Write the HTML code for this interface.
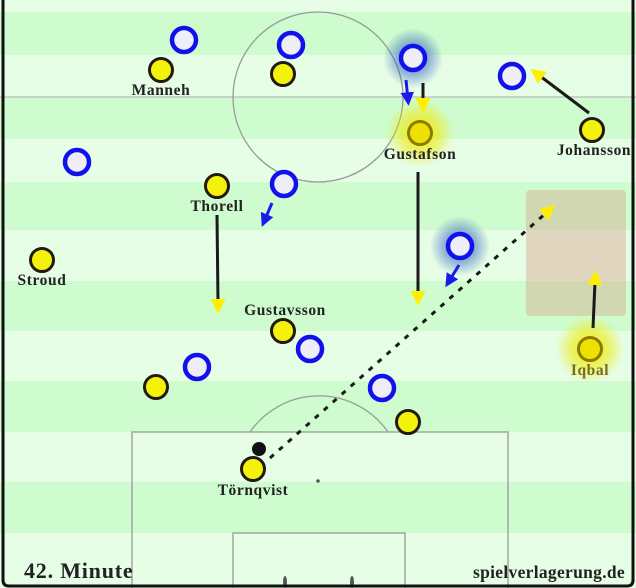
<!DOCTYPE html>
<html><head><meta charset="utf-8"><style>
html,body{margin:0;padding:0;background:#fff}
svg{display:block}
text{font-family:"Liberation Serif",serif;font-weight:bold;fill:#222}
</style></head><body>
<svg width="636" height="588" viewBox="0 0 636 588" xmlns="http://www.w3.org/2000/svg">
<defs>
<radialGradient id="gy"><stop offset="0" stop-color="#f0ea00" stop-opacity="0.95"/><stop offset="0.55" stop-color="#f0ea00" stop-opacity="0.55"/><stop offset="1" stop-color="#f0ea00" stop-opacity="0"/></radialGradient>
<radialGradient id="gb"><stop offset="0" stop-color="#1040c0" stop-opacity="0.85"/><stop offset="0.55" stop-color="#3060c0" stop-opacity="0.45"/><stop offset="1" stop-color="#3060c0" stop-opacity="0"/></radialGradient>
<marker id="ay" viewBox="0 0 10 10" refX="2" refY="5" markerWidth="5" markerHeight="5" orient="auto" markerUnits="strokeWidth"><path d="M0,0 L10,5 L0,10 z" fill="#ffee00"/></marker>
<marker id="ab" viewBox="0 0 10 10" refX="2" refY="5" markerWidth="4.5" markerHeight="4.5" orient="auto" markerUnits="strokeWidth"><path d="M0,0 L10,5 L0,10 z" fill="#1a1aee"/></marker>
</defs>
<rect width="636" height="588" fill="#e6fde6"/>
<g fill="#cffccf">
<rect x="0" y="12" width="636" height="43"/>
<rect x="0" y="97" width="636" height="42"/>
<rect x="0" y="182" width="636" height="48"/>
<rect x="0" y="281" width="636" height="50"/>
<rect x="0" y="381" width="636" height="51"/>
<rect x="0" y="482" width="636" height="51"/>
</g>
<g fill="none" stroke="#999" stroke-width="1.3">
<line x1="0" y1="97" x2="636" y2="97" stroke="#bbb"/>
<circle cx="318" cy="97" r="85"/>
<rect x="132" y="432" width="376" height="170"/>
<rect x="233" y="533" width="172" height="70"/>
<path d="M250,432 A84,84 0 0 1 388,432"/>
</g>
<circle cx="318" cy="481" r="1.8" fill="#555"/>
<ellipse cx="285" cy="582" rx="2" ry="6" fill="#555"/>
<ellipse cx="352" cy="582" rx="2" ry="6" fill="#555"/>
<rect x="526" y="190" width="100" height="126" rx="4" fill="rgba(215,130,110,0.3)"/>
<!-- glows -->
<circle cx="413" cy="58" r="30" fill="url(#gb)"/>
<circle cx="460" cy="246" r="30" fill="url(#gb)"/>
<circle cx="420" cy="133" r="34" fill="url(#gy)"/>
<circle cx="590" cy="349" r="34" fill="url(#gy)"/>
<!-- arrows -->
<g stroke="#1a1a1a" stroke-width="3" fill="none">
<line x1="423" y1="83" x2="423" y2="101" marker-end="url(#ay)"/>
<line x1="589" y1="113" x2="540" y2="76" marker-end="url(#ay)"/>
<line x1="418" y1="172" x2="418" y2="294" marker-end="url(#ay)"/>
<line x1="217" y1="215" x2="218" y2="302" marker-end="url(#ay)"/>
<line x1="593" y1="328" x2="595" y2="282" marker-end="url(#ay)"/>
<line x1="270" y1="458" x2="546" y2="213" stroke-dasharray="5,7" marker-end="url(#ay)"/>
</g>
<g stroke="#1a1aee" stroke-width="3" fill="none">
<line x1="406" y1="80" x2="407.5" y2="95" marker-end="url(#ab)"/>
<line x1="272" y1="203" x2="266" y2="217" marker-end="url(#ab)"/>
<line x1="459" y1="265" x2="451" y2="278" marker-end="url(#ab)"/>
</g>
<!-- blue players -->
<g fill="#eeeef8" stroke="#1111ee" stroke-width="4.5">
<circle cx="184" cy="40" r="12"/>
<circle cx="291" cy="45" r="12"/>
<circle cx="413" cy="58" r="12"/>
<circle cx="512" cy="76" r="12"/>
<circle cx="77" cy="162" r="12"/>
<circle cx="284" cy="184" r="12"/>
<circle cx="460" cy="246" r="12"/>
<circle cx="310" cy="349" r="12"/>
<circle cx="197" cy="367" r="12"/>
<circle cx="382" cy="388" r="12"/>
</g>
<!-- yellow players -->
<g fill="#f2f20a" stroke="#221a10" stroke-width="3">
<circle cx="161" cy="70" r="11.5"/>
<circle cx="283" cy="74" r="11.5"/>
<circle cx="592" cy="130" r="11.5"/>
<circle cx="217" cy="186" r="11.5"/>
<circle cx="42" cy="260" r="11.5"/>
<circle cx="283" cy="331" r="11.5"/>
<circle cx="156" cy="387" r="11.5"/>
<circle cx="408" cy="422" r="11.5"/>
<circle cx="253" cy="469" r="11.5"/>
</g>
<g fill="#eee000" stroke="#8a7a00" stroke-width="3">
<circle cx="420" cy="133" r="11.5"/>
<circle cx="590" cy="349" r="11.5"/>
</g>
<circle cx="259" cy="449" r="7" fill="#111"/>
<g font-size="15.5" text-anchor="middle" letter-spacing="0.6">
<text x="161" y="95">Manneh</text>
<text x="420" y="159">Gustafson</text>
<text x="594" y="155">Johansson</text>
<text x="217" y="211">Thorell</text>
<text x="42" y="285">Stroud</text>
<text x="285" y="315">Gustavsson</text>
<text x="590" y="375" style="fill:#7a6a20">Iqbal</text>
<text x="253" y="495">Törnqvist</text>
</g>
<text x="24" y="578" font-size="22" letter-spacing="0.8">42. Minute</text>
<text x="625" y="578" font-size="17.5" text-anchor="end" letter-spacing="0.3">spielverlagerung.de</text>
<path d="M3,0 V580 Q3,586 9,586 H627 Q633,586 633,580 V0" fill="none" stroke="#111" stroke-width="3"/>
</svg>
</body></html>
